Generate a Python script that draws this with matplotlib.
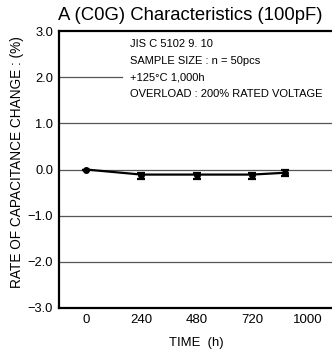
import matplotlib
matplotlib.use("Agg")
import matplotlib.pyplot as plt

# data
hours = [0, 240, 480, 720, 865]
change = [0.0, -0.11, -0.11, -0.11, -0.07]
err_low = [0.0, 0.10, 0.10, 0.10, 0.07]
err_high = [0.0, 0.03, 0.03, 0.03, 0.05]

xtick_pos = [0, 240, 480, 720, 960]
xtick_labels = ["0", "240", "480", "720", "1000"]
ytick_pos = [-3, -2, -1, 0, 1, 2, 3]
ytick_labels = ["\u22123.0", "\u22122.0", "\u22121.0", "0.0", "1.0", "2.0", "3.0"]

notes = ["JIS C 5102 9. 10",
         "SAMPLE SIZE : n = 50pcs",
         "+125\u00b0C 1,000h",
         "OVERLOAD : 200% RATED VOLTAGE"]

plt.rcParams['font.family'] = ['Liberation Sans', 'DejaVu Sans']

fig = plt.figure(figsize=(3.32, 3.56), dpi=100)
ax = fig.add_axes([59 / 332, 1 - 308 / 356, 1 - 59 / 332, (308 - 31) / 356])

# grid lines (the 2.0 line is cut short by the note block)
for yv in ytick_pos[1:-1]:
    if yv == 2:
        ax.axhline(yv, xmax=0.23, color="#555555", lw=0.9, zorder=1)
    else:
        ax.axhline(yv, color="#555555", lw=0.9, zorder=1)

ax.errorbar(hours, change, yerr=[err_low, err_high], color="black", lw=1.6,
            elinewidth=1.6, capsize=3, capthick=1.6, marker="o", markersize=4,
            zorder=3)

ax.set_xlim(-117, 1067)
ax.set_ylim(-3, 3)
ax.set_xticks(xtick_pos)
ax.set_xticklabels(xtick_labels, fontsize=9.5)
ax.set_yticks(ytick_pos)
ax.set_yticklabels(ytick_labels, fontsize=9.3)
ax.tick_params(axis="y", length=0, pad=4.3)
ax.tick_params(axis="x", length=0, pad=4.5)

for s in ["left", "top", "bottom"]:
    ax.spines[s].set_linewidth(1.6)
ax.spines["right"].set_visible(False)

for i, line in enumerate(notes):
    fig.text(130 / 332, 1 - (44 + i * 16.7) / 356, line, fontsize=8.0,
             ha="left", va="center")

fig.text(190 / 332, 1 - 16 / 356, "A (C0G) Characteristics (100pF)",
         fontsize=13.3, ha="center", va="center")
fig.text(196 / 332, 1 - 343 / 356, "TIME  (h)", fontsize=9.4,
         ha="center", va="center")
fig.text(17 / 332, 1 - 162 / 356, "RATE OF CAPACITANCE CHANGE : (%)",
         fontsize=9.8, rotation=90, ha="center", va="center")

fig.savefig("out.png", dpi=100)
